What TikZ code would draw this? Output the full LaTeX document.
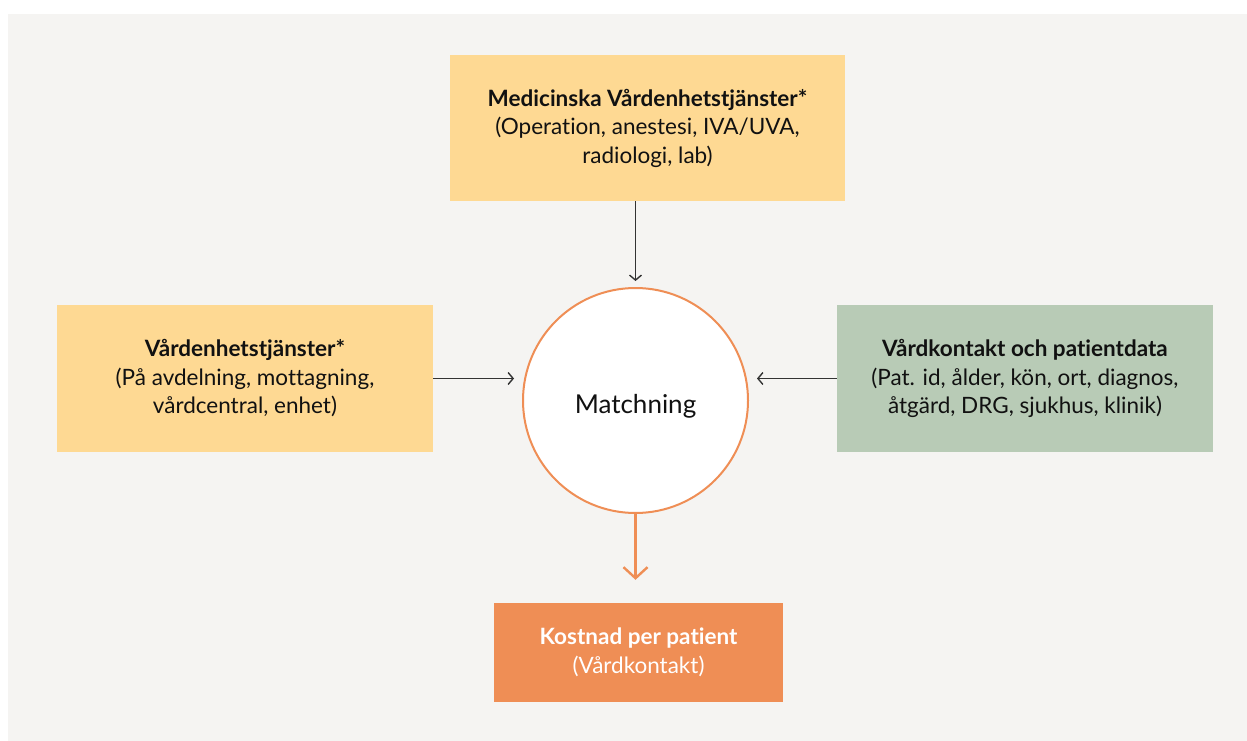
\documentclass[tikz,border=0pt]{standalone}
\usepackage{fontspec}
\setmainfont{Lato}[Ligatures={NoCommon}]
\usetikzlibrary{arrows.meta}
\definecolor{bggray}{HTML}{F5F4F2}
\definecolor{boxyellow}{HTML}{FED993}
\definecolor{boxgreen}{HTML}{B8CBB6}
\definecolor{boxorange}{HTML}{EF8E55}
\definecolor{txt}{HTML}{111111}
\definecolor{linegray}{HTML}{333333}
\tikzset{
  infobox/.style={rectangle, draw=none, align=center, text=txt,
    font=\fontsize{22.5}{28.5}\selectfont, inner sep=0pt},
  conn/.style={draw=linegray, line width=1.4pt, -{Straight Barb[length=5pt,width=12pt,line width=1.4pt]}},
  outconn/.style={draw=boxorange, line width=2.4pt, -{Straight Barb[length=11pt,width=24pt,line width=2.4pt]}},
}
\begin{document}
\begin{tikzpicture}[x=1pt,y=-1pt]
\useasboundingbox (0,0) rectangle (1247,741);
\fill[white] (0,0) rectangle (1247,741);
\fill[bggray] (8,14) rectangle (1247,741);

\node[infobox, fill=boxyellow, minimum width=395pt, minimum height=146pt] (top) at (647.5,128)
  {\textbf{Medicinska Vårdenhetstjänster*}\\(Operation, anestesi, IVA/UVA,\\radiologi, lab)};
\node[infobox, fill=boxyellow, minimum width=376pt, minimum height=147pt] (left) at (245,378.5)
  {\textbf{Vårdenhetstjänster*}\\(På avdelning, mottagning,\\vårdcentral, enhet)};
\node[infobox, fill=boxgreen, minimum width=376pt, minimum height=147pt] (right) at (1025,378.5)
  {\textbf{Vårdkontakt och patientdata}\\(Pat. id, ålder, kön, ort, diagnos,\\åtgärd, DRG, sjukhus, klinik)};
\node[circle, draw=boxorange, line width=2pt, fill=white, minimum size=225pt, inner sep=0pt,
  label={[font=\fontsize{26}{30}\selectfont, text=txt, yshift=-6pt]center:Matchning}] (circ) at (635.5,400.5) {};
\node[infobox, fill=boxorange, text=white, minimum width=289pt, minimum height=99pt] (bottom) at (638.5,652.5)
  {\textbf{Kostnad per patient}\\(Vårdkontakt)};

\draw[conn, shorten >=6pt] (top.south -| circ.north) -- (circ.north);
\draw[conn, shorten >=8pt] (left.east) -- (left.east -| circ.west);
\draw[conn, shorten >=8pt] (right.west) -- (right.west -| circ.east);
\draw[outconn, shorten >=23pt] (circ.south) -- (bottom.north -| circ.south);
\end{tikzpicture}
\end{document}
